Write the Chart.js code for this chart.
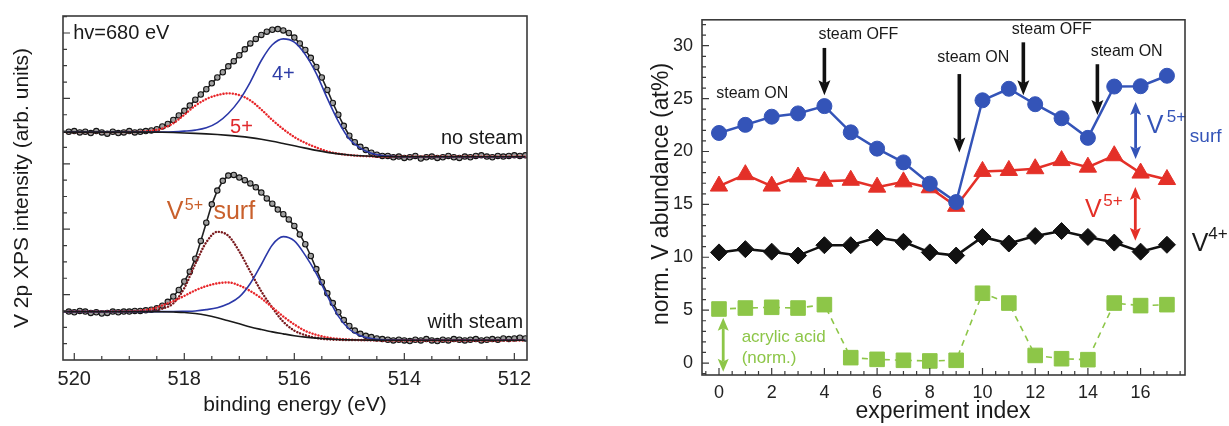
<!DOCTYPE html>
<html>
<head>
<meta charset="utf-8">
<script src="https://cdn.jsdelivr.net/npm/chart.js@4.4.1/dist/chart.umd.min.js"></script>
<style>
  html, body { margin: 0; padding: 0; background: #fff; }
  #wrap { position: relative; width: 1229px; height: 426px; overflow: hidden; }
  canvas { position: absolute; top: 0; }
  #xps { left: 0; }
  #abund { left: 640px; }
</style>
</head>
<body>
<div id="wrap">
  <canvas id="xps" width="600" height="426"></canvas>
  <canvas id="abund" width="589" height="426"></canvas>
</div>
<script>
const FONT = '"Liberation Sans", Arial, Helvetica, sans-serif';
Chart.defaults.font.family = FONT;

// ---- left panel: V 2p spectra ----
const measEnergy = [520.1,520.0,519.9,519.8,519.7,519.6,519.5,519.4,519.3,519.2,519.1,519.0,518.9,518.8,518.7,518.6,518.5,518.4,518.3,518.2,
  518.1,518.0,517.9,517.8,517.7,517.6,517.5,517.4,517.3,517.2,517.1,517.0,516.9,516.8,516.7,516.6,516.5,516.4,516.3,516.2,
  516.1,516.0,515.9,515.8,515.7,515.6,515.5,515.4,515.3,515.2,515.1,515.0,514.9,514.8,514.7,514.6,514.5,514.4,514.3,514.2,
  514.1,514.0,513.9,513.8,513.7,513.6,513.5,513.4,513.3,513.2,513.1,513.0,512.9,512.8,512.7,512.6,512.5,512.4,512.3,512.2,
  512.1,512.0,511.9,511.8];
const noSteamData = [3.49,3.50,3.48,3.49,3.47,3.50,3.48,3.46,3.49,3.47,3.48,3.50,3.48,3.49,3.50,3.51,3.53,3.57,3.61,3.67,
  3.74,3.81,3.89,3.98,4.06,4.14,4.23,4.32,4.40,4.49,4.57,4.66,4.75,4.84,4.91,4.97,5.02,5.05,5.06,5.04,
  5.00,4.93,4.84,4.74,4.62,4.48,4.32,4.13,3.93,3.75,3.58,3.43,3.33,3.26,3.21,3.17,3.14,3.12,3.12,3.10,
  3.11,3.09,3.10,3.12,3.08,3.10,3.11,3.09,3.10,3.12,3.10,3.09,3.11,3.10,3.12,3.13,3.11,3.10,3.12,3.11,
  3.12,3.13,3.12,3.13];
const withSteamData = [0.74,0.73,0.75,0.74,0.72,0.73,0.71,0.72,0.74,0.73,0.74,0.74,0.75,0.75,0.76,0.77,0.79,0.83,0.89,0.97,
  1.07,1.20,1.35,1.55,1.82,2.10,2.38,2.59,2.74,2.82,2.83,2.79,2.75,2.70,2.64,2.56,2.47,2.39,2.30,2.23,
  2.15,2.05,1.92,1.77,1.59,1.39,1.19,1.02,0.87,0.73,0.61,0.52,0.45,0.40,0.37,0.35,0.33,0.32,0.31,0.30,
  0.31,0.30,0.29,0.31,0.30,0.32,0.30,0.29,0.31,0.30,0.32,0.31,0.30,0.31,0.32,0.30,0.31,0.32,0.31,0.33,
  0.32,0.33,0.34,0.33];

const fitEnergy = [520.2,519.2,519.0,518.8,518.6,518.4,518.2,518.0,517.8,517.6,517.4,517.2,517.0,516.8,516.6,
  516.4,516.2,516.0,515.8,515.6,515.4,515.2,515.0,514.8,514.6,514.4,514.2,514.0,513.5,511.8];
const noSteamBg = [3.485,3.485,3.485,3.485,3.484,3.482,3.478,3.472,3.465,3.457,3.447,3.435,3.42,3.40,3.375,
  3.345,3.31,3.275,3.24,3.205,3.175,3.152,3.135,3.123,3.115,3.111,3.109,3.108,3.107,3.107];
const noSteamV4 = [3.485,3.485,3.485,3.485,3.485,3.486,3.49,3.50,3.515,3.55,3.63,3.77,3.97,4.25,4.58,
  4.82,4.91,4.86,4.67,4.38,4.00,3.65,3.38,3.24,3.16,3.125,3.112,3.108,3.107,3.107];
const noSteamV5 = [3.485,3.485,3.486,3.49,3.505,3.54,3.62,3.75,3.89,3.99,4.05,4.077,4.05,3.97,3.83,
  3.67,3.53,3.41,3.32,3.25,3.19,3.155,3.133,3.12,3.113,3.11,3.108,3.107,3.107,3.107];
const steamBg = [0.74,0.74,0.74,0.74,0.739,0.737,0.733,0.727,0.71,0.683,0.645,0.60,0.553,0.505,0.466,
  0.43,0.40,0.372,0.35,0.334,0.323,0.314,0.308,0.305,0.304,0.303,0.303,0.303,0.303,0.303];
const steamV4 = [0.74,0.74,0.74,0.74,0.74,0.74,0.741,0.745,0.75,0.77,0.80,0.86,0.965,1.17,1.46,
  1.76,1.886,1.82,1.60,1.32,0.98,0.67,0.47,0.37,0.328,0.31,0.305,0.303,0.303,0.303];
const steamV5 = [0.74,0.741,0.745,0.755,0.78,0.835,0.90,0.98,1.065,1.13,1.172,1.186,1.14,1.055,0.945,
  0.805,0.665,0.545,0.445,0.385,0.345,0.323,0.312,0.306,0.304,0.303,0.303,0.303,0.303,0.303];
const steamV5surf = [0.74,0.74,0.74,0.742,0.75,0.785,0.867,1.10,1.47,1.80,1.96,1.90,1.66,1.35,1.05,
  0.80,0.585,0.45,0.38,0.337,0.316,0.308,0.305,0.304,0.303,0.303,0.303,0.303,0.303,0.303];
const energyTicks = [520, 518, 516, 514, 512];

// ---- right panel: abundances vs experiment index ----
const expIndex = [0,1,2,3,4,5,6,7,8,9,10,11,12,13,14,15,16,17];
const v5surf = [21.75,22.52,23.29,23.6,24.29,21.81,20.27,18.97,16.96,15.22,24.84,25.93,24.47,23.14,21.29,26.14,26.17,27.16];
const v5 = [16.73,17.81,16.73,17.59,17.19,17.28,16.63,17.13,16.57,14.82,18.12,18.21,18.37,19.14,18.52,19.6,17.96,17.35];
const v4 = [10.46,10.77,10.53,10.16,11.14,11.14,11.86,11.46,10.46,10.16,11.92,11.3,12.01,12.48,11.92,11.39,10.53,11.18];
const acrylic = [5.11,5.2,5.27,5.2,5.52,0.51,0.35,0.26,0.2,0.26,6.6,5.67,0.72,0.41,0.32,5.67,5.43,5.52];
const indexTicks = [0, 2, 4, 6, 8, 10, 12, 14, 16];
const abundTicks = [0, 5, 10, 15, 20, 25, 30];

const BLUE = 'rgb(52,84,184)', RED = 'rgb(228,48,40)', GREEN = 'rgb(141,198,72)';

function pts(xs, ys) { return xs.map((x, i) => ({ x: x, y: ys[i] })); }

function range(a, b, step) { const r = []; for (let v = a; v <= b + 1e-9; v += step) r.push(+v.toFixed(3)); return r; }

function tickPlugin(cfg) {
  return {
    id: 'innerTicks',
    afterDraw(chart) {
      const ctx = chart.ctx, a = chart.chartArea, xs = chart.scales.x, ys = chart.scales.y;
      ctx.save();
      ctx.strokeStyle = '#3a3a3a';
      ctx.lineWidth = 1.2;
      ctx.beginPath();
      cfg.xMinor.forEach(v => { const p = xs.getPixelForValue(v); ctx.moveTo(p, a.bottom); ctx.lineTo(p, a.bottom - cfg.minor); });
      cfg.xMajor.forEach(v => { const p = xs.getPixelForValue(v); ctx.moveTo(p, a.bottom); ctx.lineTo(p, a.bottom - cfg.major); });
      cfg.yMinor.forEach(v => { const p = ys.getPixelForValue(v); ctx.moveTo(a.left, p); ctx.lineTo(a.left + cfg.minor, p); });
      cfg.yMajor.forEach(v => { const p = ys.getPixelForValue(v); ctx.moveTo(a.left, p); ctx.lineTo(a.left + cfg.major, p); });
      ctx.stroke();
      ctx.lineWidth = 1.6;
      ctx.strokeRect(a.left, a.top, a.right - a.left, a.bottom - a.top);
      // axis titles
      ctx.fillStyle = '#1a1a1a';
      ctx.textAlign = 'center';
      ctx.textBaseline = 'middle';
      ctx.font = cfg.titleSize + 'px ' + FONT;
      ctx.fillText(cfg.xTitle[0], cfg.xTitle[1], cfg.xTitle[2]);
      ctx.save();
      ctx.translate(cfg.yTitle[1], cfg.yTitle[2]);
      ctx.rotate(-Math.PI / 2);
      ctx.fillText(cfg.yTitle[0], 0, 0);
      ctx.restore();
      ctx.restore();
    }
  };
}

function drawTexts(chart, list) {
  const ctx = chart.ctx, xs = chart.scales.x, ys = chart.scales.y;
  ctx.save();
  ctx.textBaseline = 'middle';
  list.forEach(t => {
    ctx.font = t.size + 'px ' + FONT;
    ctx.fillStyle = t.color;
    ctx.textAlign = t.align || 'left';
    ctx.fillText(t.text, xs.getPixelForValue(t.x), ys.getPixelForValue(t.y));
  });
  ctx.restore();
}

function arrow(ctx, x, yFrom, yTo, color, shaft, headW, headL, both) {
  ctx.save();
  ctx.fillStyle = color;
  ctx.strokeStyle = color;
  ctx.lineWidth = shaft;
  const dir = yTo > yFrom ? 1 : -1;
  const s = both ? yFrom + dir * headL * 0.8 : yFrom;
  ctx.beginPath();
  ctx.moveTo(x, s);
  ctx.lineTo(x, yTo - dir * headL * 0.8);
  ctx.stroke();
  const head = (tip, d) => {
    ctx.beginPath();
    ctx.moveTo(x, tip);
    ctx.lineTo(x - headW / 2, tip - d * headL);
    ctx.lineTo(x, tip - d * headL * 0.8);
    ctx.lineTo(x + headW / 2, tip - d * headL);
    ctx.closePath();
    ctx.fill();
  };
  head(yTo, dir);
  if (both) head(yFrom, -dir);
  ctx.restore();
}

// ---------- left chart ----------
const xpsLabels = [
  { text: 'hv=680 eV', x: 520.02, y: 4.995, color: '#1a1a1a', size: 20 },
  { text: '4+', x: 516.2, y: 4.37, color: '#2d3ca6', size: 20, align: 'center' },
  { text: '5+', x: 516.96, y: 3.56, color: '#e0282c', size: 20, align: 'center' },
  { text: 'no steam', x: 511.84, y: 3.394, color: '#1a1a1a', size: 20, align: 'right' },
  { text: 'with steam', x: 511.84, y: 0.581, color: '#1a1a1a', size: 20, align: 'right' },
  { text: 'V', x: 518.32, y: 2.268, color: '#c9602c', size: 25 },
  { text: '5+', x: 517.99, y: 2.36, color: '#c9602c', size: 16 },
  { text: 'surf', x: 517.47, y: 2.268, color: '#c9602c', size: 25 }
];

const fitLine = (data, color, dotted) => ({
  data: data, borderColor: color, borderWidth: dotted ? 2.4 : 1.6,
  borderDash: dotted ? [0.1, 3] : [], borderCapStyle: dotted ? 'round' : 'butt',
  pointRadius: 0, cubicInterpolationMode: 'monotone', fill: false
});
const measured = (data) => ({
  data: data, borderColor: '#222', borderWidth: 1.6, pointRadius: 2.7, pointBorderWidth: 1.1,
  pointBorderColor: '#151515', pointBackgroundColor: '#a0a0a0', tension: 0, fill: false
});

new Chart(document.getElementById('xps'), {
  type: 'line',
  data: {
    datasets: [
      fitLine(pts(fitEnergy, noSteamBg), '#1a1a1a', false),
      fitLine(pts(fitEnergy, noSteamV4), '#2b38a8', false),
      fitLine(pts(fitEnergy, noSteamV5), '#e8262a', true),
      fitLine(pts(fitEnergy, steamBg), '#1a1a1a', false),
      fitLine(pts(fitEnergy, steamV4), '#2b38a8', false),
      fitLine(pts(fitEnergy, steamV5), '#e8262a', true),
      fitLine(pts(fitEnergy, steamV5surf), '#7a1a1e', true),
      measured(pts(measEnergy, noSteamData)),
      measured(pts(measEnergy, withSteamData))
    ]
  },
  options: {
    responsive: false,
    animation: false,
    devicePixelRatio: 1,
    layout: { padding: { left: 0, top: 16, right: 73, bottom: 0 } },
    plugins: { legend: { display: false }, tooltip: { enabled: false } },
    scales: {
      x: {
        type: 'linear', reverse: true, min: 511.77, max: 520.205,
        afterBuildTicks: s => { s.ticks = energyTicks.map(v => ({ value: v })); },
        afterFit: s => { s.height = 66; },
        grid: { display: false, drawTicks: false }, border: { display: false },
        ticks: { font: { size: 20 }, color: '#222', padding: 7, maxRotation: 0, autoSkip: false }
      },
      y: {
        type: 'linear', min: 0, max: 5.26,
        afterFit: s => { s.width = 63; },
        grid: { display: false, drawTicks: false }, border: { display: false },
        ticks: { display: false }
      }
    }
  },
  plugins: [
    { id: 'xpsText', beforeDatasetsDraw(chart) { drawTexts(chart, xpsLabels); } },
    tickPlugin({
      xMajor: energyTicks, xMinor: range(512, 520, 0.5),
      yMajor: range(1, 5, 1), yMinor: range(0.25, 5.25, 0.25),
      major: 7, minor: 4, titleSize: 21,
      xTitle: ['binding energy (eV)', 295, 405],
      yTitle: ['V 2p XPS intensity (arb. units)', 22, 188]
    })
  ]
});

// ---------- right chart ----------
const steamNotes = [
  { text: 'steam ON', x: 1.26, y: 25.46, color: '#1a1a1a', size: 16, align: 'center' },
  { text: 'steam OFF', x: 5.29, y: 31.03, color: '#1a1a1a', size: 16, align: 'center' },
  { text: 'steam ON', x: 9.65, y: 28.86, color: '#1a1a1a', size: 16, align: 'center' },
  { text: 'steam OFF', x: 12.63, y: 31.49, color: '#1a1a1a', size: 16, align: 'center' },
  { text: 'steam ON', x: 15.47, y: 29.48, color: '#1a1a1a', size: 16, align: 'center' },
  { text: 'V', x: 16.23, y: 22.43, color: BLUE, size: 25 },
  { text: '5+', x: 16.99, y: 23.27, color: BLUE, size: 17 },
  { text: 'surf', x: 17.87, y: 21.41, color: BLUE, size: 19 },
  { text: 'V', x: 13.89, y: 14.45, color: RED, size: 25 },
  { text: '5+', x: 14.58, y: 15.29, color: RED, size: 17 },
  { text: 'V', x: 17.94, y: 11.23, color: '#1a1a1a', size: 25 },
  { text: '4+', x: 18.57, y: 12.16, color: '#1a1a1a', size: 17 },
  { text: 'acrylic acid', x: 0.86, y: 2.42, color: GREEN, size: 17 },
  { text: '(norm.)', x: 0.86, y: 0.49, color: GREEN, size: 17 }
];
const steamArrows = [
  { x: 4.0, from: 29.79, to: 25.31 },
  { x: 9.12, from: 27.32, to: 19.9 },
  { x: 11.55, from: 30.32, to: 25.31 },
  { x: 14.36, from: 28.25, to: 23.45 }
];
const rangeArrows = [
  { x: 15.81, from: 24.68, to: 19.28, color: BLUE },
  { x: 15.8, from: 16.65, to: 11.55, color: RED },
  { x: 0.16, from: 4.28, to: -0.83, color: GREEN }
];

const series = (data, color, style, radius, dashed) => ({
  data: data, borderColor: color, backgroundColor: color, borderWidth: dashed ? 1.6 : 2.5,
  borderDash: dashed ? [6, 5] : [], pointStyle: style, pointRadius: radius,
  pointBackgroundColor: color, pointBorderColor: color, pointBorderWidth: 1, tension: 0, fill: false
});

new Chart(document.getElementById('abund'), {
  type: 'line',
  data: {
    datasets: [
      series(pts(expIndex, v5surf), BLUE, 'circle', 7.5, false),
      series(pts(expIndex, v5), RED, 'triangle', 10, false),
      series(pts(expIndex, v4), '#111', 'rectRot', 8.5, false),
      series(pts(expIndex, acrylic), GREEN, 'rect', 10.3, true)
    ]
  },
  options: {
    responsive: false,
    animation: false,
    devicePixelRatio: 1,
    layout: { padding: { left: 0, top: 13, right: 44, bottom: 0 } },
    plugins: { legend: { display: false }, tooltip: { enabled: false } },
    scales: {
      x: {
        type: 'linear', min: -0.645, max: 17.685,
        afterBuildTicks: s => { s.ticks = indexTicks.map(v => ({ value: v })); },
        afterFit: s => { s.height = 51; },
        grid: { display: false, drawTicks: false }, border: { display: false },
        ticks: { font: { size: 18 }, color: '#222', padding: 7, maxRotation: 0, autoSkip: false }
      },
      y: {
        type: 'linear', min: -1.13, max: 32.45,
        afterBuildTicks: s => { s.ticks = abundTicks.map(v => ({ value: v })); },
        afterFit: s => { s.width = 62; },
        grid: { display: false, drawTicks: false }, border: { display: false },
        ticks: { font: { size: 18 }, color: '#222', padding: 9 }
      }
    }
  },
  plugins: [
    {
      id: 'notes',
      afterDatasetsDraw(chart) {
        const xs = chart.scales.x, ys = chart.scales.y, ctx = chart.ctx;
        steamArrows.forEach(a => arrow(ctx, xs.getPixelForValue(a.x), ys.getPixelForValue(a.from), ys.getPixelForValue(a.to), '#111', 3.6, 12, 15, false));
        rangeArrows.forEach(a => arrow(ctx, xs.getPixelForValue(a.x), ys.getPixelForValue(a.from), ys.getPixelForValue(a.to), a.color, 2.8, 11, 13, true));
        drawTexts(chart, steamNotes);
      }
    },
    tickPlugin({
      xMajor: indexTicks, xMinor: range(-0.5, 17.5, 0.5),
      yMajor: abundTicks, yMinor: range(-1, 32, 1),
      major: 7, minor: 4, titleSize: 23,
      xTitle: ['experiment index', 303, 412],
      yTitle: ['norm. V abundance (at%)', 22, 194]
    })
  ]
});
</script>
</body>
</html>
